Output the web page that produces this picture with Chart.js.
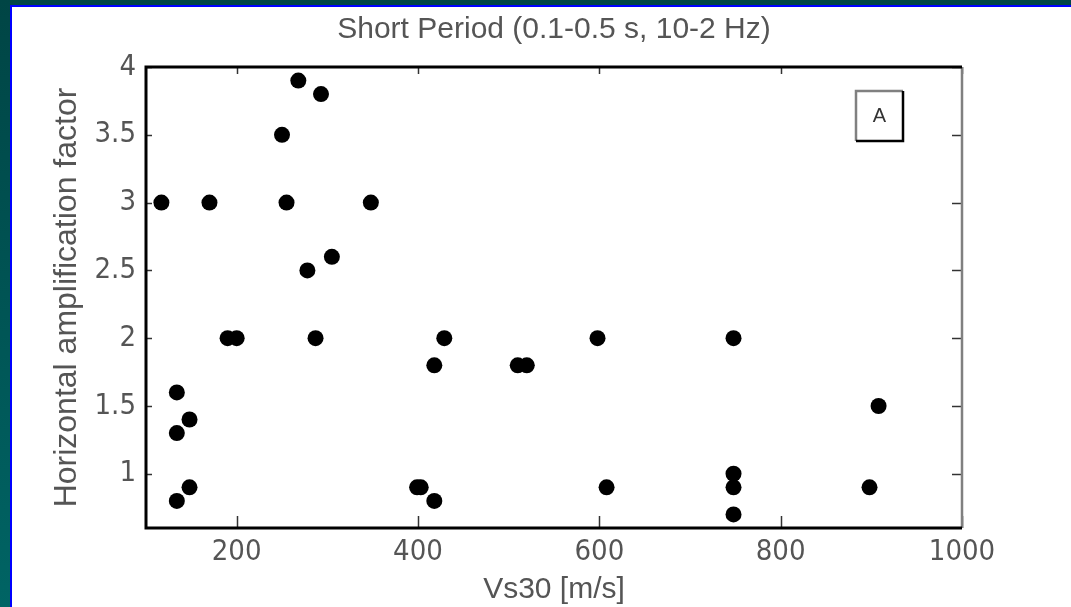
<!DOCTYPE html>
<html>
<head>
<meta charset="utf-8">
<script src="https://cdn.jsdelivr.net/npm/chart.js@4/dist/chart.umd.min.js"></script>
<style>
  html, body { margin: 0; padding: 0; background: #ffffff; }
  #wrap { width: 1071px; height: 607px; }
</style>
</head>
<body>
<div id="wrap"><canvas id="myChart" width="1071" height="607"></canvas></div>
<script>
// values
const vs30 = [117, 134, 134, 148, 134, 148, 170, 190, 200, 250, 255, 268, 278, 287, 293, 305, 348,
              399, 403, 418, 418, 429, 510, 520, 598, 608, 748, 748, 748, 748, 898, 908];
const amp  = [3.0, 1.6, 1.3, 1.4, 0.8, 0.9, 3.0, 2.0, 2.0, 3.5, 3.0, 3.9, 2.5, 2.0, 3.8, 2.6, 3.0,
              0.9, 0.9, 1.8, 0.8, 2.0, 1.8, 1.8, 2.0, 0.9, 2.0, 1.0, 0.9, 0.7, 0.9, 1.5];

const xTicks = [200, 400, 600, 800, 1000];
const yTicks = [1, 1.5, 2, 2.5, 3, 3.5, 4];

const narrow = "'Liberation Sans Narrow', 'DejaVu Sans Condensed', sans-serif";
const regular = "'Liberation Sans', Arial, sans-serif";
const textColor = '#555555';

// teal slide background with the blue edge
const slideBg = {
    id: 'slideBg',
    beforeDraw(chart) {
        const ctx = chart.ctx;
        const w = chart.width, h = chart.height;
        ctx.save();
        const g = ctx.createLinearGradient(0, 0, 0, h);
        g.addColorStop(0, '#004545');
        g.addColorStop(1, '#006464');
        ctx.fillStyle = g;
        ctx.fillRect(0, 0, w, h);
        ctx.fillStyle = '#0000ff';
        ctx.fillRect(10, 5, w - 10, h - 5);
        ctx.fillStyle = '#ffffff';
        ctx.fillRect(12, 7, w - 12, h - 7);
        ctx.restore();
    }
};

// axes box, inward ticks and the "A" panel tag
const axesBox = {
    id: 'axesBox',
    afterDraw(chart) {
        const ctx = chart.ctx;
        const a = chart.chartArea;
        const xs = chart.scales.x, ys = chart.scales.y;
        ctx.save();
        ctx.lineCap = 'butt';

        ctx.strokeStyle = '#333333';
        ctx.lineWidth = 1.5;
        xTicks.forEach(v => {
            const px = Math.round(xs.getPixelForValue(v)) + 0.5;
            ctx.beginPath(); ctx.moveTo(px, a.bottom); ctx.lineTo(px, a.bottom - 12); ctx.stroke();
            ctx.beginPath(); ctx.moveTo(px, a.top); ctx.lineTo(px, a.top + 7); ctx.stroke();
        });
        yTicks.forEach(v => {
            const py = Math.round(ys.getPixelForValue(v)) + 0.5;
            ctx.beginPath(); ctx.moveTo(a.left, py); ctx.lineTo(a.left + 6, py); ctx.stroke();
            ctx.beginPath(); ctx.moveTo(a.right, py); ctx.lineTo(a.right - 10, py); ctx.stroke();
        });

        ctx.strokeStyle = '#808080';
        ctx.lineWidth = 2.5;
        ctx.beginPath(); ctx.moveTo(a.right, a.top); ctx.lineTo(a.right, a.bottom); ctx.stroke();

        ctx.strokeStyle = '#000000';
        ctx.lineWidth = 3;
        ctx.beginPath();
        ctx.moveTo(a.right, a.top);
        ctx.lineTo(a.left, a.top);
        ctx.lineTo(a.left, a.bottom);
        ctx.lineTo(a.right, a.bottom);
        ctx.stroke();

        // panel tag
        const bx = a.right - 106, by = a.top + 24, bw = 47, bh = 50;
        ctx.lineWidth = 2.5;
        ctx.strokeStyle = '#808080';
        ctx.beginPath(); ctx.moveTo(bx, by + bh); ctx.lineTo(bx, by); ctx.lineTo(bx + bw, by); ctx.stroke();
        ctx.strokeStyle = '#000000';
        ctx.beginPath(); ctx.moveTo(bx + bw, by); ctx.lineTo(bx + bw, by + bh); ctx.lineTo(bx, by + bh); ctx.stroke();
        ctx.fillStyle = '#333333';
        ctx.font = "20px " + regular;
        ctx.textAlign = 'center';
        ctx.textBaseline = 'middle';
        ctx.fillText('A', bx + bw / 2, by + bh / 2);
        ctx.restore();
    }
};

const points = vs30.map((v, i) => ({ x: v, y: amp[i] }));

const config = {
    type: 'scatter',
    data: {
        datasets: [{
            data: points,
            backgroundColor: '#000000',
            borderWidth: 0,
            pointRadius: 8,
            pointHoverRadius: 8
        }]
    },
    options: {
        responsive: false,
        animation: false,
        layout: { padding: { left: 0, right: 109, top: 0, bottom: 0 } },
        plugins: {
            legend: { display: false },
            tooltip: { enabled: false },
            title: {
                display: true,
                fullSize: false,
                text: 'Short Period (0.1-0.5 s, 10-2 Hz)',
                color: textColor,
                font: { family: regular, size: 30, weight: 'normal', lineHeight: 1 },
                padding: { top: 15, bottom: 22 }
            }
        },
        scales: {
            x: {
                type: 'linear',
                min: 100,
                max: 1000,
                afterBuildTicks: s => { s.ticks = xTicks.map(v => ({ value: v })); },
                afterFit: s => { s.height = 79; },
                grid: { display: false, drawTicks: false },
                border: { display: false },
                ticks: {
                    color: textColor,
                    font: { family: narrow, size: 29, lineHeight: 1 },
                    padding: 10,
                    maxRotation: 0,
                    autoSkip: false,
                    callback: v => String(v)
                },
                title: {
                    display: true,
                    text: 'Vs30 [m/s]',
                    color: textColor,
                    font: { family: regular, size: 30, lineHeight: 1 },
                    padding: { top: 0, bottom: 2 }
                }
            },
            y: {
                type: 'linear',
                min: 0.6,
                max: 4,
                afterBuildTicks: s => { s.ticks = yTicks.map(v => ({ value: v })); },
                afterFit: s => { s.width = 146; },
                grid: { display: false, drawTicks: false },
                border: { display: false },
                ticks: {
                    color: textColor,
                    font: { family: narrow, size: 29, lineHeight: 1 },
                    padding: 10,
                    autoSkip: false,
                    callback: v => String(v)
                },
                title: {
                    display: true,
                    text: 'Horizontal amplification factor',
                    color: textColor,
                    font: { family: regular, size: 32, lineHeight: 1 },
                    padding: { top: 51, bottom: 0 }
                }
            }
        }
    },
    plugins: [slideBg, axesBox]
};

const ctx = document.getElementById('myChart');
const myChart = new Chart(ctx, config);
</script>
</body>
</html>
